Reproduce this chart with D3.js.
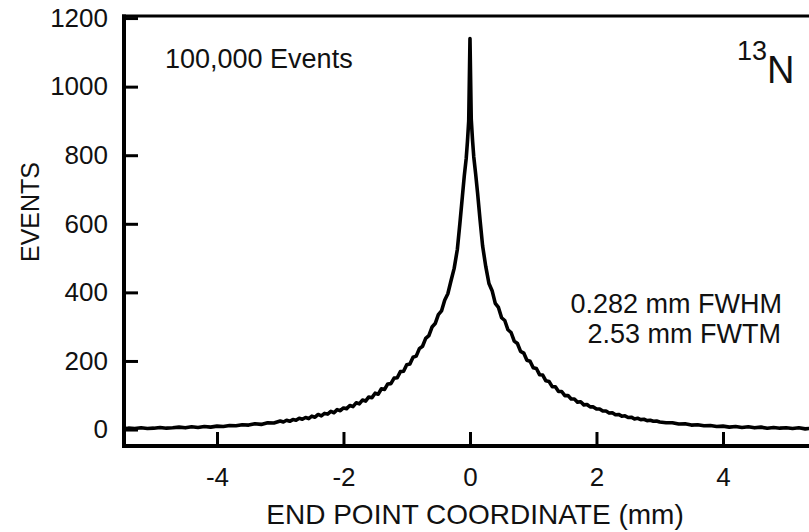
<!DOCTYPE html>
<html lang="en">
<head>
    <meta charset="UTF-8">
    <title>13N end point distribution</title>
    <style>
        body {
            margin: 0;
            background-color: white;
        }

        svg {
            display: block;
            font-family: "Liberation Sans", Arial, sans-serif;
        }

        .axis text {
            font-size: 26px;
            fill: #111;
        }

        .axis line {
            stroke: #000;
            stroke-width: 3px;
        }

        .trace {
            fill: none;
            stroke: #000;
            stroke-width: 3.6px;
            stroke-linejoin: round;
        }

        .note {
            fill: #111;
        }
    </style>
    <script src="https://d3js.org/d3.v7.min.js"></script>
</head>
<body>

<script>
    // bin centres (mm), finer steps around the peak
    const coordMm = [
        -5.5, -5.4, -5.3, -5.2, -5.1, -5.0, -4.9, -4.8, -4.7, -4.6, -4.5, -4.4, -4.3,
        -4.2, -4.1, -4.0, -3.9, -3.8, -3.7, -3.6, -3.5, -3.4, -3.3, -3.2, -3.1,
        -3.0, -2.95, -2.9, -2.85, -2.8, -2.75, -2.7, -2.65, -2.6, -2.55, -2.5, -2.45,
        -2.4, -2.35, -2.3, -2.25, -2.2, -2.15, -2.1, -2.05, -2.0, -1.95, -1.9, -1.85,
        -1.8, -1.75, -1.7, -1.65, -1.6, -1.55, -1.5, -1.45, -1.4, -1.35, -1.3, -1.25,
        -1.2, -1.15, -1.1, -1.05, -1.0, -0.95, -0.9, -0.85, -0.8, -0.75, -0.7, -0.65,
        -0.6, -0.55, -0.5, -0.45, -0.4, -0.35, -0.3,
        -0.25, -0.2, -0.16, -0.12, -0.09, -0.06, -0.04, -0.02, 0,
        0.02, 0.04, 0.06, 0.09, 0.12, 0.16, 0.2, 0.25,
        0.3, 0.35, 0.4, 0.45, 0.5, 0.55, 0.6, 0.65, 0.7, 0.75, 0.8, 0.85,
        0.9, 0.95, 1.0, 1.05, 1.1, 1.15, 1.2, 1.25, 1.3, 1.35, 1.4, 1.45,
        1.5, 1.55, 1.6, 1.65, 1.7, 1.75, 1.8, 1.85, 1.9, 1.95, 2.0, 2.05,
        2.1, 2.15, 2.2, 2.25, 2.3, 2.35, 2.4, 2.45, 2.5, 2.55, 2.6, 2.65,
        2.7, 2.75, 2.8, 2.85, 2.9, 2.95, 3.0,
        3.1, 3.2, 3.3, 3.4, 3.5, 3.6, 3.7, 3.8, 3.9, 4.0, 4.1, 4.2, 4.3,
        4.4, 4.5, 4.6, 4.7, 4.8, 4.9, 5.0, 5.1, 5.2, 5.3, 5.4, 5.5
    ];

    const eventCounts = [
        2, 4, 3, 5, 3, 4, 6, 4, 5, 7, 5, 8, 6,
        9, 7, 10, 9, 12, 11, 14, 13, 17, 15, 20, 19,
        25, 22, 27, 24, 29, 27, 33, 30, 35, 32, 39, 36,
        44, 40, 47, 45, 53, 49, 58, 55, 63, 61, 70, 67,
        78, 75, 86, 83, 95, 93, 106, 103, 119, 117, 133, 134,
        150, 151, 169, 170, 189, 191, 211, 214, 236, 243, 266, 274,
        299, 309, 335, 346, 377, 396, 434,
        470, 525, 600, 680, 740, 790, 840, 900, 1140,
        905, 845, 795, 745, 690, 610, 535, 475,
        426, 405, 368, 356, 326, 318, 291, 283, 258, 251, 228, 223,
        202, 199, 180, 178, 160, 159, 142, 140, 125, 125, 111, 111,
        99, 99, 89, 89, 80, 81, 72, 73, 66, 66, 60, 60,
        54, 54, 48, 49, 43, 44, 39, 40, 35, 36, 31, 33,
        29, 30, 26, 27, 24, 25, 22,
        20, 20, 16, 17, 13, 14, 11, 12, 9, 10, 7, 9, 6,
        8, 5, 7, 4, 6, 4, 5, 3, 5, 2, 4, 3
    ];

    const xTicks = [-4, -2, 0, 2, 4];
    const yTicks = [0, 200, 400, 600, 800, 1000, 1200];

    const width = 809;
    const height = 532;

    const svg = d3.select("body")
                  .append("svg")
                  .attr("width", width)
                  .attr("height", height);

    const x = d3.scaleLinear().domain([-5.47, 5.36]).range([124, 809]);
    const y = d3.scaleLinear().domain([-48, 1206]).range([446, 16]);

    svg.append("clipPath")
       .attr("id", "plot-clip")
       .append("rect")
       .attr("x", x.range()[0])
       .attr("y", y.range()[1])
       .attr("width", x.range()[1] - x.range()[0])
       .attr("height", y.range()[0] - y.range()[1]);

    const points = coordMm.map((c, i) => [c, eventCounts[i]]);

    const line = d3.line()
                   .x(d => x(d[0]))
                   .y(d => y(d[1]));

    svg.append("path")
       .datum(points)
       .attr("class", "trace")
       .attr("clip-path", "url(#plot-clip)")
       .attr("d", line);

    // axes with inward ticks, plain hyphen and no thousands comma
    const plain = d => String(d);

    const yAxis = svg.append("g")
                     .attr("class", "axis")
                     .attr("transform", `translate(${x.range()[0]},0)`)
                     .call(d3.axisLeft(y)
                             .tickValues(yTicks)
                             .tickFormat(plain)
                             .tickSizeInner(-14)
                             .tickSizeOuter(0)
                             .tickPadding(16));
    yAxis.select(".domain").remove();

    const xAxis = svg.append("g")
                     .attr("class", "axis")
                     .attr("transform", `translate(0,${y.range()[0]})`)
                     .call(d3.axisBottom(x)
                             .tickValues(xTicks)
                             .tickFormat(plain)
                             .tickSizeInner(-14)
                             .tickSizeOuter(0)
                             .tickPadding(22));
    xAxis.select(".domain").remove();

    // frame
    svg.append("line")
       .attr("x1", x.range()[0]).attr("x2", x.range()[0])
       .attr("y1", y.range()[1] - 1.5).attr("y2", y.range()[0] + 2)
       .attr("stroke", "#000").attr("stroke-width", 4);
    svg.append("line")
       .attr("x1", x.range()[0] - 2).attr("x2", width)
       .attr("y1", y.range()[0]).attr("y2", y.range()[0])
       .attr("stroke", "#000").attr("stroke-width", 4);
    svg.append("line")
       .attr("x1", x.range()[0] - 2).attr("x2", width)
       .attr("y1", y.range()[1]).attr("y2", y.range()[1])
       .attr("stroke", "#000").attr("stroke-width", 3);

    // axis titles
    svg.append("text")
       .attr("class", "note")
       .attr("x", 475)
       .attr("y", 524)
       .attr("text-anchor", "middle")
       .style("font-size", "28px")
       .text("END POINT COORDINATE (mm)");

    svg.append("text")
       .attr("class", "note")
       .attr("transform", "translate(39,212) rotate(-90)")
       .attr("text-anchor", "middle")
       .style("font-size", "25px")
       .text("EVENTS");

    // annotations
    svg.append("text")
       .attr("class", "note")
       .attr("x", 165)
       .attr("y", 68)
       .style("font-size", "27px")
       .text("100,000 Events");

    svg.append("text")
       .attr("class", "note")
       .attr("x", 782)
       .attr("y", 313)
       .attr("text-anchor", "end")
       .style("font-size", "27px")
       .text("0.282 mm FWHM");

    svg.append("text")
       .attr("class", "note")
       .attr("x", 781)
       .attr("y", 343)
       .attr("text-anchor", "end")
       .style("font-size", "27px")
       .text("2.53 mm FWTM");

    const iso = svg.append("text")
                   .attr("class", "note")
                   .attr("x", 737)
                   .attr("y", 83);
    iso.append("tspan")
       .attr("dy", -23)
       .style("font-size", "27px")
       .text("13");
    iso.append("tspan")
       .attr("dy", 23)
       .style("font-size", "38px")
       .text("N");
</script>

</body>
</html>
